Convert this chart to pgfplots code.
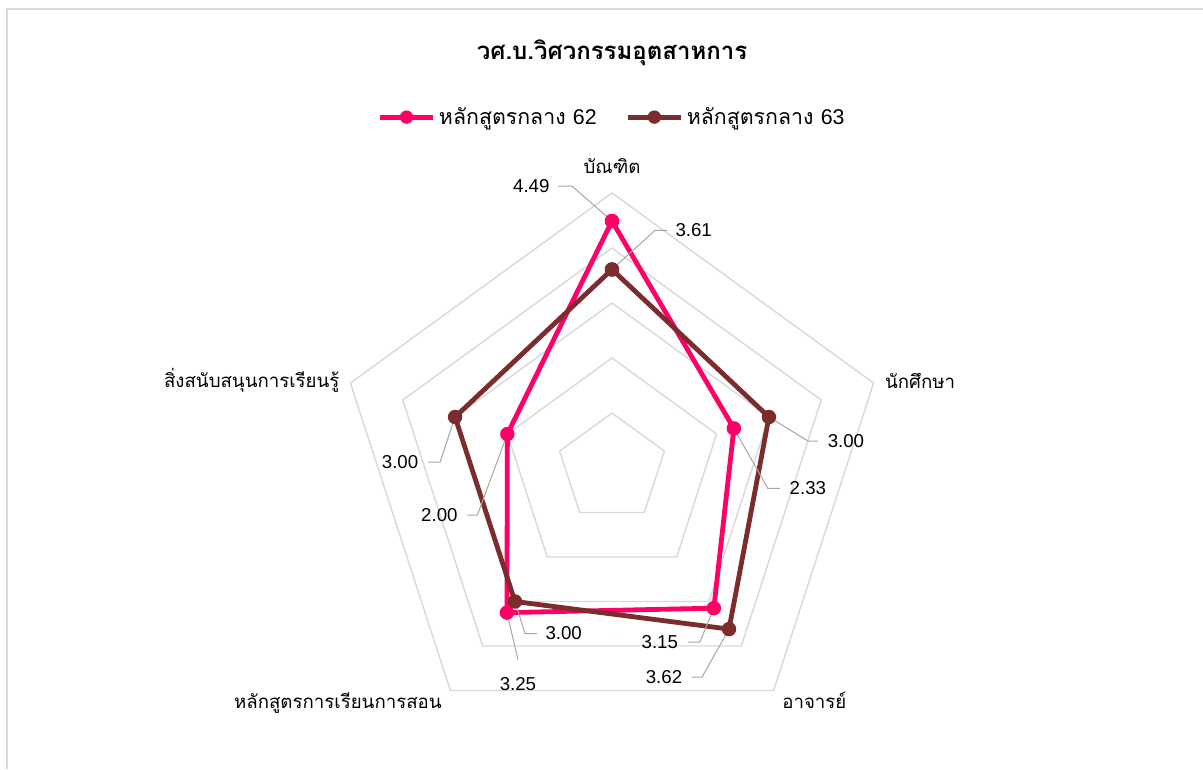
\documentclass[border=0pt]{standalone}
\usepackage{fontspec}
\usepackage{pgfplots}
\pgfplotsset{compat=1.18}
\usepgfplotslibrary{polar}
\setmainfont[Script=Thai]{Loma}
\newfontfamily\numfont{Liberation Sans}
\definecolor{pinkc}{HTML}{FF0066}
\definecolor{brownc}{HTML}{7B2C2C}
\definecolor{gridc}{HTML}{D9D9D9}
\definecolor{leadc}{HTML}{A6A6A6}
\begin{document}
\begin{tikzpicture}
\path[use as bounding box] (0,0) rectangle (902.25pt,-576.75pt);
\draw[gridc, line width=1.2pt] (5.25pt,-576.75pt) -- (5.25pt,-6.75pt) -- (902.25pt,-6.75pt);
\node[font=\bfseries\fontsize{18}{20}\selectfont] at (459pt,-39.75pt) {วศ.บ.วิศวกรรมอุตสาหการ};
\begin{polaraxis}[
  at={(459pt,-351pt)}, anchor=center,
  width=412.5pt, height=412.5pt, scale only axis,
  ymin=0, ymax=5, hide axis, clip=false,
  legend style={at={(0.5,1.138)}, anchor=center, draw=none, fill=none,
    legend columns=2, font=\fontsize{16}{18}\selectfont,
    /tikz/every odd column/.append style={column sep=1pt},
    /tikz/every even column/.append style={column sep=20pt},
    nodes={inner xsep=1.5pt}},
  legend cell align=left,
  legend image code/.code={\draw[#1, mark repeat=2, mark phase=2, mark size=4.6pt] plot coordinates {(0pt,0pt)(20pt,0pt)(40pt,0pt)};},
]
\addplot[gridc, line width=1.1pt, forget plot] coordinates {(90,1)(18,1)(-54,1)(-126,1)(162,1)(90,1)};
\addplot[gridc, line width=1.1pt, forget plot] coordinates {(90,2)(18,2)(-54,2)(-126,2)(162,2)(90,2)};
\addplot[gridc, line width=1.1pt, forget plot] coordinates {(90,3)(18,3)(-54,3)(-126,3)(162,3)(90,3)};
\addplot[gridc, line width=1.1pt, forget plot] coordinates {(90,4)(18,4)(-54,4)(-126,4)(162,4)(90,4)};
\addplot[gridc, line width=1.1pt, forget plot] coordinates {(90,5)(18,5)(-54,5)(-126,5)(162,5)(90,5)};
\addplot[pinkc, line width=3.6pt, line join=round, mark=*, mark size=5pt, mark options={solid, line width=0.8pt}]
  coordinates {(90,4.49)(18,2.33)(-54,3.15)(-126,3.25)(162,2.00)(90,4.49)};
\addlegendentry{หลักสูตรกลาง {\numfont 62}}
\addplot[brownc, line width=3.6pt, line join=round, mark=*, mark size=5pt, mark options={solid, line width=0.8pt}]
  coordinates {(90,3.61)(18,3.00)(-54,3.62)(-126,3.00)(162,3.00)(90,3.61)};
\addlegendentry{หลักสูตรกลาง {\numfont 63}}
\begin{scope}[every node/.style={text=black}]
\begin{scope}[every node/.append style={font=\numfont\fontsize{14}{16}\selectfont}]
\draw[leadc, line width=0.75pt] (axis cs:90,4.49) -- ++(-30pt,26.25pt) -- ++(-10.5pt,0pt) node[anchor=east, inner sep=0pt, xshift=-6pt]{4.49};
\draw[leadc, line width=0.75pt] (axis cs:90,3.61) -- ++(32.25pt,29.25pt) -- ++(9pt,0pt) node[anchor=west, inner sep=0pt, xshift=6pt]{3.61};
\draw[leadc, line width=0.75pt] (axis cs:18,3.00) -- ++(29.25pt,-18pt) -- ++(7.5pt,0pt) node[anchor=west, inner sep=0pt, xshift=7pt]{3.00};
\draw[leadc, line width=0.75pt] (axis cs:18,2.33) -- ++(25.5pt,-45pt) -- ++(9pt,0pt) node[anchor=west, inner sep=0pt, xshift=7pt]{2.33};
\draw[leadc, line width=0.75pt] (axis cs:162,3.00) -- ++(-11.25pt,-33.75pt) -- ++(-9pt,0pt) node[anchor=east, inner sep=0pt, xshift=-7pt]{3.00};
\draw[leadc, line width=0.75pt] (axis cs:162,2.00) -- ++(-22.5pt,-60.75pt) -- ++(-7.5pt,0pt) node[anchor=east, inner sep=0pt, xshift=-7pt]{2.00};
\draw[leadc, line width=0.75pt] (axis cs:-126,3.00) -- ++(7.5pt,-24pt) -- ++(9pt,0pt) node[anchor=west, inner sep=0pt, xshift=6pt]{3.00};
\draw[leadc, line width=0.75pt] (axis cs:-126,3.25) -- ++(8.25pt,-35.25pt) node[anchor=north, inner sep=0pt, yshift=-13pt]{3.25};
\draw[leadc, line width=0.75pt] (axis cs:-54,3.15) -- ++(-10.5pt,-25.5pt) -- ++(-9pt,0pt) node[anchor=east, inner sep=0pt, xshift=-7pt]{3.15};
\draw[leadc, line width=0.75pt] (axis cs:-54,3.62) -- ++(-20.25pt,-36pt) -- ++(-7.5pt,0pt) node[anchor=east, inner sep=0pt, xshift=-7pt]{3.62};
\end{scope}
\begin{scope}[every node/.append style={font=\fontsize{14}{16}\selectfont}]
\node[anchor=base] at (axis cs:90,5.36) {บัณฑิต};
\node[anchor=base west, inner sep=0pt] at (axis cs:16.3,5.17) {นักศึกษา};
\node[anchor=base east, inner sep=0pt] at (axis cs:163.6,5.16) {สิ่งสนับสนุนการเรียนรู้};
\node[anchor=base west, inner sep=0pt] at (axis cs:-54.7,5.35) {อาจารย์};
\node[anchor=base east, inner sep=0pt] at (axis cs:-125.3,5.35) {หลักสูตรการเรียนการสอน};
\end{scope}
\end{scope}
\end{polaraxis}
\end{tikzpicture}
\end{document}
